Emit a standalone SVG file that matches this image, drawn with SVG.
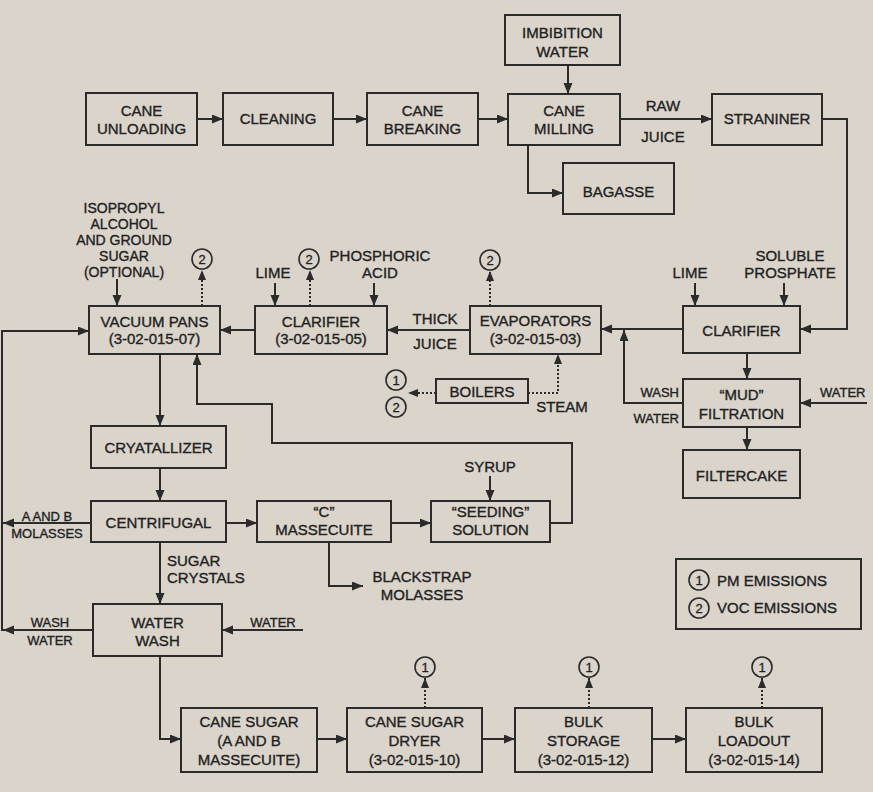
<svg xmlns="http://www.w3.org/2000/svg" width="873" height="792" viewBox="0 0 873 792">
<defs>
<style>
.bx{fill:none;stroke:#2b2b2b;stroke-width:2}
.t{font-family:"Liberation Sans",Arial,sans-serif;font-size:15px;fill:#222;stroke:#222;stroke-width:0.35;text-anchor:middle}
.s{font-size:13px}
.m{font-size:14px}
.st{text-anchor:start}
.en{text-anchor:end}
.c{fill:none;stroke:#2b2b2b;stroke-width:1.6}
.d{font-family:"Liberation Sans",Arial,sans-serif;font-size:13px;fill:#222;stroke:#222;stroke-width:0.3;text-anchor:middle}
.ln{fill:none;stroke:#2b2b2b;stroke-width:2;marker-end:url(#ah)}
.pl{fill:none;stroke:#2b2b2b;stroke-width:2}
.dt{fill:none;stroke:#2b2b2b;stroke-width:2;stroke-dasharray:2,2;marker-end:url(#ad)}
</style>
<marker id="ah" markerUnits="userSpaceOnUse" markerWidth="12" markerHeight="10" refX="11" refY="4.5" orient="auto"><path d="M0,0 L11,4.5 L0,9 z" fill="#2b2b2b"/></marker>
<marker id="ad" markerUnits="userSpaceOnUse" markerWidth="12" markerHeight="10" refX="10" refY="4" orient="auto"><path d="M0,0 L10,4 L0,8 z" fill="#2b2b2b"/></marker>
</defs>
<rect width="873" height="792" fill="#dad4cb"/>

<g id="connectors">
<path class="ln" d="M197,119 H223"/>
<path class="ln" d="M333,119 H367"/>
<path class="ln" d="M478,119 H508"/>
<path class="ln" d="M568,65 V94"/>
<path class="ln" d="M620,119 H712"/>
<path class="ln" d="M528,145 V193 H563"/>
<path class="ln" d="M822,119 H847 V329 H800"/>
<path class="ln" d="M695,283 V306"/>
<path class="ln" d="M784,283 V306"/>
<path class="ln" d="M747,353 V379"/>
<path class="ln" d="M747,427 V450"/>
<path class="ln" d="M867,403 H800"/>
<path class="ln" d="M683,403 H624 V330"/>
<path class="ln" d="M683,329 H601"/>
<path class="ln" d="M470,330 H387"/>
<path class="ln" d="M255,330 H220"/>
<path class="ln" d="M374,283 V306"/>
<path class="ln" d="M275,283 V306"/>
<path class="ln" d="M117,279 V306"/>
<path class="dt" d="M202,306 V270"/>
<path class="dt" d="M310,306 V270"/>
<path class="dt" d="M490,306 V271"/>
<path class="dt" d="M528,393 H558 V354"/>
<path class="dt" d="M436,393 H408"/>
<path class="ln" d="M2,331 H89"/>
<path class="pl" d="M2,330 V631"/>
<path class="ln" d="M160,354 V426"/>
<path class="ln" d="M550,523 H572 V443 H272 V404 H197 V354"/>
<path class="ln" d="M160,468 V501"/>
<path class="ln" d="M91,523 H3"/>
<path class="ln" d="M226,523 H257"/>
<path class="ln" d="M391,523 H431"/>
<path class="ln" d="M490,476 V501"/>
<path class="ln" d="M329,542 V586 H363"/>
<path class="ln" d="M160,542 V604"/>
<path class="ln" d="M303,630 H222"/>
<path class="ln" d="M93,630 H3"/>
<path class="ln" d="M160,656 V739 H181"/>
<path class="ln" d="M317,739 H347"/>
<path class="ln" d="M482,739 H515"/>
<path class="ln" d="M652,739 H686"/>
<path class="dt" d="M425,708 V678"/>
<path class="dt" d="M589,708 V678"/>
<path class="dt" d="M762,708 V678"/>
</g>

<g id="labels">
<text class="t" x="663" y="111">RAW</text>
<text class="t" x="663" y="142">JUICE</text>
<text class="t" x="690" y="278">LIME</text>
<text class="t" x="790" y="261">SOLUBLE</text>
<text class="t" x="790" y="278">PROSPHATE</text>
<text class="t s en" x="679" y="397">WASH</text>
<text class="t s en" x="679" y="423">WATER</text>
<text class="t s st" x="820" y="397">WATER</text>
<text class="t" x="435" y="324">THICK</text>
<text class="t" x="435" y="349">JUICE</text>
<text class="t" x="562" y="412">STEAM</text>
<text class="t" x="380" y="261">PHOSPHORIC</text>
<text class="t" x="380" y="278">ACID</text>
<text class="t" x="273" y="278">LIME</text>
<text class="t m" x="124" y="213">ISOPROPYL</text>
<text class="t m" x="124" y="229">ALCOHOL</text>
<text class="t m" x="124" y="245">AND GROUND</text>
<text class="t m" x="124" y="261">SUGAR</text>
<text class="t m" x="124" y="277">(OPTIONAL)</text>
<text class="t" x="490" y="472">SYRUP</text>
<text class="t" x="422" y="582">BLACKSTRAP</text>
<text class="t" x="422" y="600">MOLASSES</text>
<text class="t st" x="167" y="566">SUGAR</text>
<text class="t st" x="167" y="583">CRYSTALS</text>
<text class="t s" x="47" y="521">A AND B</text>
<text class="t s" x="47" y="538">MOLASSES</text>
<text class="t s" x="50" y="627">WASH</text>
<text class="t s" x="50" y="645">WATER</text>
<text class="t s" x="273" y="627">WATER</text>
</g>

<g id="emissions">
<circle class="c" cx="202" cy="259" r="10"/><text class="d" x="202" y="264">2</text>
<circle class="c" cx="309" cy="259" r="10"/><text class="d" x="309" y="264">2</text>
<circle class="c" cx="490" cy="260" r="10"/><text class="d" x="490" y="265">2</text>
<circle class="c" cx="396" cy="380" r="10"/><text class="d" x="396" y="385">1</text>
<circle class="c" cx="396" cy="407" r="10"/><text class="d" x="396" y="412">2</text>
<circle class="c" cx="425" cy="667" r="10"/><text class="d" x="425" y="672">1</text>
<circle class="c" cx="589" cy="667" r="10"/><text class="d" x="589" y="672">1</text>
<circle class="c" cx="762" cy="667" r="10"/><text class="d" x="762" y="672">1</text>
</g>

<g id="cane-unloading"><rect class="bx" x="86" y="93" width="111" height="52"/><text class="t" x="141.5" y="116">CANE</text><text class="t" x="141.5" y="134">UNLOADING</text></g>
<g id="cleaning"><rect class="bx" x="223" y="93" width="110" height="52"/><text class="t" x="278" y="124">CLEANING</text></g>
<g id="cane-breaking"><rect class="bx" x="367" y="93" width="111" height="52"/><text class="t" x="422.5" y="116">CANE</text><text class="t" x="422.5" y="134">BREAKING</text></g>
<g id="imbibition-water"><rect class="bx" x="505" y="15" width="115" height="50"/><text class="t" x="562.5" y="38">IMBIBITION</text><text class="t" x="562.5" y="57">WATER</text></g>
<g id="cane-milling"><rect class="bx" x="508" y="94" width="112" height="51"/><text class="t" x="564" y="116">CANE</text><text class="t" x="564" y="134">MILLING</text></g>
<g id="straniner"><rect class="bx" x="712" y="94" width="110" height="51"/><text class="t" x="767" y="124">STRANINER</text></g>
<g id="bagasse"><rect class="bx" x="563" y="163" width="111" height="51"/><text class="t" x="618.5" y="197">BAGASSE</text></g>
<g id="clarifier-raw"><rect class="bx" x="683" y="306" width="117" height="47"/><text class="t" x="741.5" y="336">CLARIFIER</text></g>
<g id="mud-filtration"><rect class="bx" x="683" y="379" width="117" height="48"/><text class="t" x="741.5" y="400">“MUD”</text><text class="t" x="741.5" y="419">FILTRATION</text></g>
<g id="filtercake"><rect class="bx" x="683" y="450" width="117" height="48"/><text class="t" x="741.5" y="481">FILTERCAKE</text></g>
<g id="evaporators"><rect class="bx" x="470" y="306" width="131" height="48"/><text class="t" x="535.5" y="326">EVAPORATORS</text><text class="t" x="535.5" y="344">(3-02-015-03)</text></g>
<g id="clarifier"><rect class="bx" x="255" y="306" width="132" height="48"/><text class="t" x="321" y="327">CLARIFIER</text><text class="t" x="321" y="344">(3-02-015-05)</text></g>
<g id="vacuum-pans"><rect class="bx" x="89" y="306" width="131" height="48"/><text class="t" x="154.5" y="327">VACUUM PANS</text><text class="t" x="154.5" y="344">(3-02-015-07)</text></g>
<g id="boilers"><rect class="bx" x="436" y="379" width="92" height="24"/><text class="t" x="482" y="397">BOILERS</text></g>
<g id="cryatallizer"><rect class="bx" x="91" y="426" width="135" height="42"/><text class="t" x="158.5" y="453">CRYATALLIZER</text></g>
<g id="centrifugal"><rect class="bx" x="91" y="501" width="135" height="41"/><text class="t" x="158.5" y="528">CENTRIFUGAL</text></g>
<g id="c-massecuite"><rect class="bx" x="257" y="501" width="134" height="41"/><text class="t" x="324" y="517">“C”</text><text class="t" x="324" y="535">MASSECUITE</text></g>
<g id="seeding-solution"><rect class="bx" x="431" y="501" width="119" height="41"/><text class="t" x="490.5" y="517">“SEEDING”</text><text class="t" x="490.5" y="535">SOLUTION</text></g>
<g id="water-wash"><rect class="bx" x="93" y="604" width="129" height="52"/><text class="t" x="157.5" y="628">WATER</text><text class="t" x="157.5" y="646">WASH</text></g>
<g id="cane-sugar"><rect class="bx" x="181" y="708" width="136" height="64"/><text class="t" x="249" y="727">CANE SUGAR</text><text class="t" x="249" y="746">(A AND B</text><text class="t" x="249" y="765">MASSECUITE)</text></g>
<g id="cane-sugar-dryer"><rect class="bx" x="347" y="708" width="135" height="64"/><text class="t" x="414.5" y="727">CANE SUGAR</text><text class="t" x="414.5" y="746">DRYER</text><text class="t" x="414.5" y="765">(3-02-015-10)</text></g>
<g id="bulk-storage"><rect class="bx" x="515" y="708" width="137" height="64"/><text class="t" x="583.5" y="727">BULK</text><text class="t" x="583.5" y="746">STORAGE</text><text class="t" x="583.5" y="765">(3-02-015-12)</text></g>
<g id="bulk-loadout"><rect class="bx" x="686" y="708" width="136" height="64"/><text class="t" x="754" y="727">BULK</text><text class="t" x="754" y="746">LOADOUT</text><text class="t" x="754" y="765">(3-02-015-14)</text></g>
<g id="legend"><rect class="bx" x="676" y="559" width="185" height="70"/>
<circle class="c" cx="699" cy="580" r="10"/><text class="d" x="699" y="585">1</text>
<circle class="c" cx="699" cy="608" r="10"/><text class="d" x="699" y="613">2</text>
<text class="t st" x="717" y="586">PM EMISSIONS</text>
<text class="t st" x="717" y="613">VOC EMISSIONS</text></g>
</svg>
